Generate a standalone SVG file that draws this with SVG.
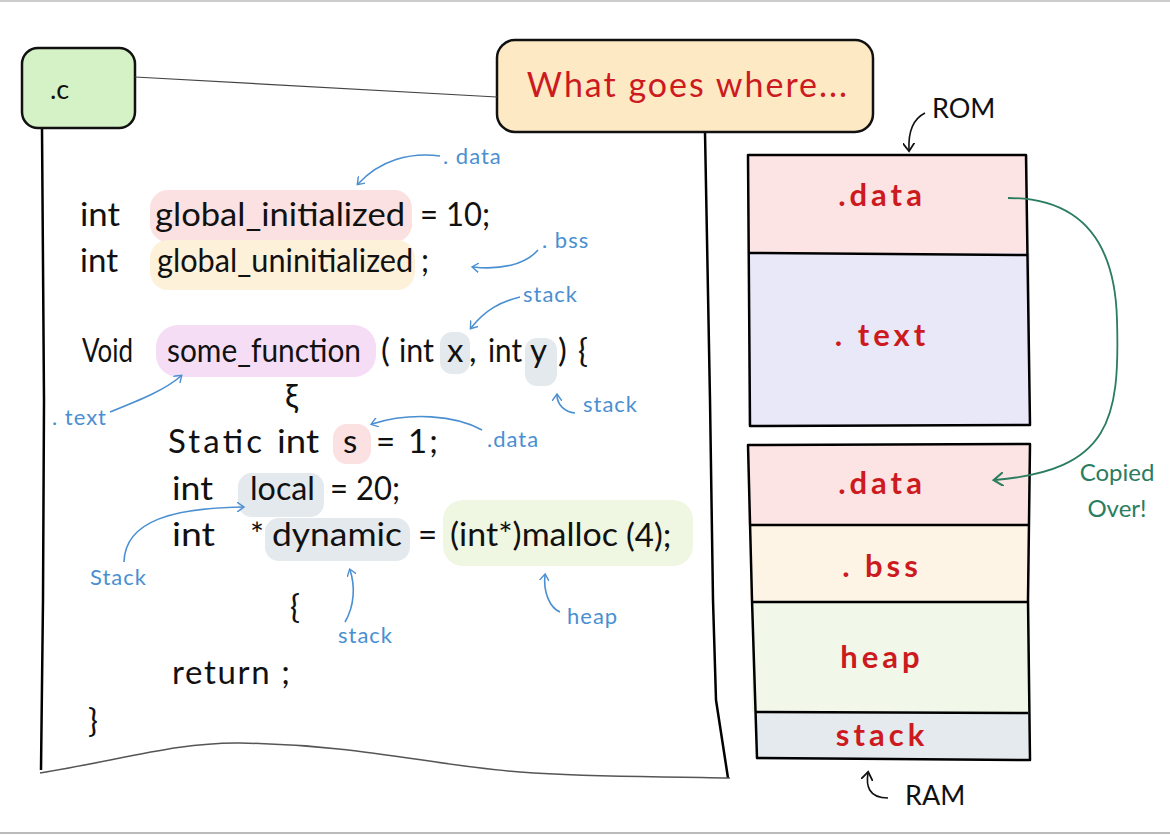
<svg xmlns="http://www.w3.org/2000/svg" width="1170" height="836" viewBox="0 0 1170 836">
<defs>
<style>
.code{font-family:Lato,"Noto Sans",sans-serif;font-size:33px;fill:#111}
.ann{font-family:Lato,"Noto Sans",sans-serif;font-size:22px;fill:#4a8fd1;letter-spacing:1px}
.sec{font-family:Lato,"Noto Sans",sans-serif;font-size:31px;fill:#cc1a1f;font-weight:700;text-anchor:middle;letter-spacing:4px}
.blk{font-family:Lato,"Noto Sans",sans-serif;font-size:27px;fill:#111}
.edge{fill:none;stroke:#000;stroke-width:2.5;stroke-linejoin:round}
.ba{fill:none;stroke:#4a8fd1;stroke-width:1.6;marker-end:url(#ab)}
</style>
<marker id="ab" viewBox="0 0 10 10" refX="6" refY="5" markerWidth="10" markerHeight="10" orient="auto" markerUnits="userSpaceOnUse"><path d="M0,0 L7,5 L0,10" fill="none" stroke="#4a8fd1" stroke-width="1.4"/></marker>
<marker id="ak" viewBox="0 0 10 10" refX="6" refY="5" markerWidth="12" markerHeight="12" orient="auto" markerUnits="userSpaceOnUse"><path d="M0,0 L7,5 L0,10" fill="none" stroke="#111" stroke-width="1.5"/></marker>
<marker id="ag" viewBox="0 0 10 10" refX="6" refY="5" markerWidth="14" markerHeight="14" orient="auto" markerUnits="userSpaceOnUse"><path d="M0,0 L7,5 L0,10" fill="none" stroke="#2a7d5e" stroke-width="1.5"/></marker>
</defs>
<rect x="0" y="0" width="1170" height="836" fill="#fff"/>
<line x1="0" y1="1" x2="1170" y2="1" stroke="#bbb" stroke-width="1.5"/>
<line x1="0" y1="833" x2="1170" y2="833" stroke="#bbb" stroke-width="2"/>

<g id="paper">
<path class="edge" d="M42,128 L44,400 L43,600 L41,770" stroke-width="3.5"/>
<path class="edge" d="M705,132 L710,400 L713,600 L716,700 L728,778" stroke-width="3.5"/>
<path d="M40,773 C120,760 180,742 240,743 C360,745 430,765 520,772 C600,778 660,776 730,778" fill="none" stroke="#555" stroke-width="1.5"/>
</g>

<g id="c-node">
<rect x="22" y="48" width="113" height="80" rx="16" fill="#d5f1c6" stroke="#111" stroke-width="2.5"/>
<text x="50" y="99" class="blk" font-size="31">.c</text>
</g>

<g id="title">
<rect x="497" y="40" width="376" height="92" rx="18" fill="#fde9c4" stroke="#111" stroke-width="2.5"/>
<text x="688" y="97" font-family="Lato,'Noto Sans',sans-serif" font-size="34" fill="#cc1a1f" text-anchor="middle" letter-spacing="2">What goes where...</text>
</g>

<g id="highlights">
<rect x="150" y="190" width="262" height="52" rx="18" fill="#fbe1e1"/>
<rect x="150" y="240" width="265" height="50" rx="18" fill="#fdf1da"/>
<rect x="156" y="325" width="220" height="52" rx="22" fill="#f5ddf5"/>
<rect x="440" y="332" width="30" height="42" rx="12" fill="#e3e9ec"/>
<rect x="525" y="338" width="32" height="48" rx="12" fill="#e3e9ec"/>
<rect x="333" y="424" width="38" height="40" rx="14" fill="#fbe1e1"/>
<rect x="238" y="473" width="86" height="44" rx="14" fill="#e3e9ec"/>
<rect x="265" y="518" width="145" height="43" rx="14" fill="#e3e9ec"/>
<rect x="443" y="500" width="250" height="66" rx="20" fill="#eff6e2"/>
</g>

<g id="code">
<text class="code" x="80" y="226" textLength="40" lengthAdjust="spacingAndGlyphs">int</text>
<text class="code" x="155" y="226" textLength="250" lengthAdjust="spacingAndGlyphs">global_initialized</text>
<text class="code" x="420" y="226" textLength="70" lengthAdjust="spacingAndGlyphs">= 10;</text>
<text class="code" x="80" y="272" textLength="38" lengthAdjust="spacingAndGlyphs">int</text>
<text class="code" x="157" y="272" textLength="272" lengthAdjust="spacingAndGlyphs">global_uninitialized ;</text>
<text class="code" x="82" y="362" textLength="51" lengthAdjust="spacingAndGlyphs">Void</text>
<text class="code" x="167" y="362" textLength="194" lengthAdjust="spacingAndGlyphs">some_function</text>
<text class="code" x="381" y="362">(</text>
<text class="code" x="399" y="362" textLength="35" lengthAdjust="spacingAndGlyphs">int</text>
<text class="code" x="447" y="362">x</text>
<text class="code" x="469" y="362">,</text>
<text class="code" x="488" y="362" textLength="34" lengthAdjust="spacingAndGlyphs">int</text>
<text class="code" x="530" y="362">y</text>
<text class="code" x="558" y="362">)</text>
<text class="code" x="578" y="362">{</text>
<text class="code" x="285" y="408">ξ</text>
<text class="code" x="168" y="453" textLength="94" lengthAdjust="spacing">Static</text>
<text class="code" x="277" y="453" textLength="42" lengthAdjust="spacingAndGlyphs">int</text>
<text class="code" x="343" y="453">s</text>
<text class="code" x="376" y="453" textLength="62" lengthAdjust="spacing">= 1;</text>
<text class="code" x="172" y="500" textLength="41" lengthAdjust="spacingAndGlyphs">int</text>
<text class="code" x="250" y="500" textLength="65" lengthAdjust="spacingAndGlyphs">local</text>
<text class="code" x="330" y="500" textLength="70" lengthAdjust="spacingAndGlyphs">= 20;</text>
<text class="code" x="172" y="546" textLength="43" lengthAdjust="spacingAndGlyphs">int</text>
<text class="code" x="250" y="546">*</text>
<text class="code" x="272" y="546" textLength="130" lengthAdjust="spacingAndGlyphs">dynamic</text>
<text class="code" x="418" y="546">=</text>
<text class="code" x="450" y="546" textLength="168" lengthAdjust="spacingAndGlyphs">(int*)malloc</text>
<text class="code" x="626" y="547" font-size="37">(4);</text>
<text class="code" x="290" y="618" font-size="48">{</text>
<text class="code" x="172" y="684" textLength="118" lengthAdjust="spacing">return ;</text>
<text class="code" x="88" y="732" font-size="48">}</text>
</g>

<g id="annotations">
<text class="ann" x="443" y="164">. data</text>
<text class="ann" x="542" y="248">. bss</text>
<text class="ann" x="523" y="302">stack</text>
<text class="ann" x="52" y="425">. text</text>
<text class="ann" x="583" y="412">stack</text>
<text class="ann" x="487" y="447">.data</text>
<text class="ann" x="90" y="585">Stack</text>
<text class="ann" x="338" y="643">stack</text>
<text class="ann" x="567" y="624">heap</text>
</g>

<g id="rom">
<rect x="748" y="155" width="280" height="98" fill="#fce4e4"/>
<rect x="748" y="253" width="282" height="172" fill="#e9e8f9"/>
<path class="edge" d="M748,155 L1026,155 L1030,425 L750,426 Z M748,253 L1028,255"/>
<text class="sec" x="882" y="206">.data</text>
<text class="sec" x="882" y="346">. text</text>
<text class="blk" x="932" y="118">ROM</text>
</g>

<g id="ram">
<rect x="748" y="445" width="282" height="80" fill="#fce4e4"/>
<rect x="750" y="525" width="278" height="77" fill="#fef4e6"/>
<rect x="752" y="602" width="276" height="110" fill="#f1f8e9"/>
<rect x="756" y="712" width="274" height="48" fill="#e4eaee"/>
<path class="edge" d="M748,445 L1030,444 L1028,600 L1030,760 L757,758 L752,600 Z M750,525 L1028,525 M752,602 L1028,602 M756,712 L1028,713"/>
<text class="sec" x="882" y="494">.data</text>
<text class="sec" x="882" y="577">. bss</text>
<text class="sec" x="882" y="668">heap</text>
<text class="sec" x="882" y="746">stack</text>
<text class="blk" x="905" y="805">RAM</text>
</g>

<g id="copied">
<text font-family="Lato,'Noto Sans',sans-serif" font-size="24" fill="#2a7d5e" text-anchor="middle" x="1117" y="481">Copied</text>
<text font-family="Lato,'Noto Sans',sans-serif" font-size="24" fill="#2a7d5e" text-anchor="middle" x="1117" y="517">Over!</text>
</g>

<g id="connectors">
<line x1="135" y1="77" x2="497" y2="97" stroke="#444" stroke-width="1.2"/>
<path class="ba" d="M440,156 C410,152 380,160 358,184"/>
<path class="ba" d="M538,250 C525,265 500,270 473,267"/>
<path class="ba" d="M520,297 C500,302 485,310 471,328"/>
<path class="ba" d="M110,412 C140,400 165,390 181,376"/>
<path class="ba" d="M575,413 C565,412 557,405 557,395"/>
<path class="ba" d="M482,430 C455,415 410,412 372,424"/>
<path class="ba" d="M124,562 C125,520 175,508 243,507"/>
<path class="ba" d="M345,622 C355,605 355,585 350,570"/>
<path class="ba" d="M560,612 C550,608 543,592 545,575"/>
<path fill="none" stroke="#111" stroke-width="1.6" marker-end="url(#ak)" d="M925,113 C915,118 908,130 909,150"/>
<path fill="none" stroke="#111" stroke-width="1.6" marker-end="url(#ak)" d="M888,798 C868,798 866,785 868,773"/>
<path fill="none" stroke="#2a7d5e" stroke-width="1.8" marker-end="url(#ag)" d="M1008,198 C1080,198 1115,240 1117,320 C1120,420 1110,470 995,480"/>
</g>
</svg>
